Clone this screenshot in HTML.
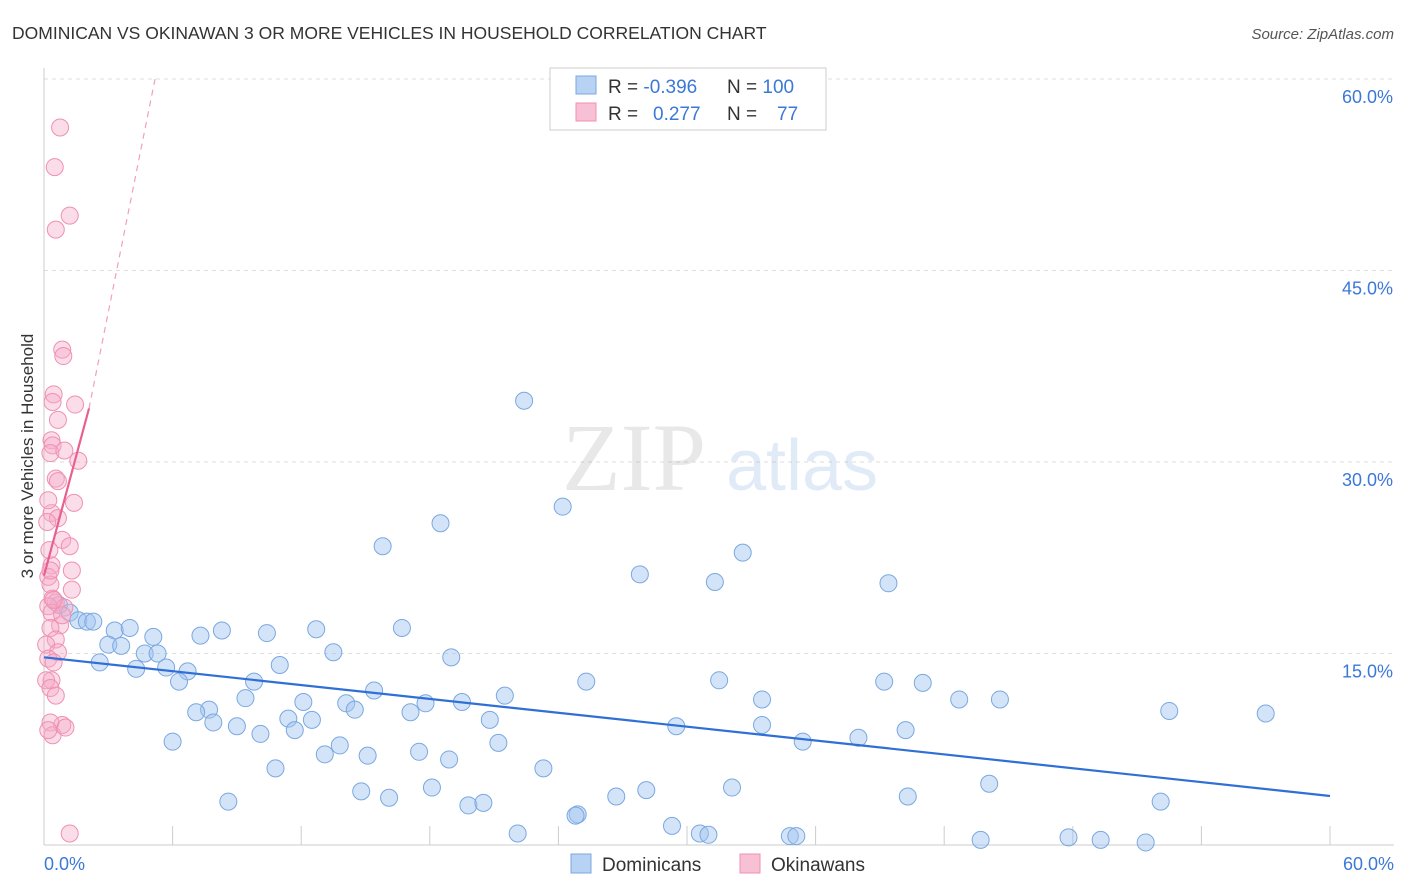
<!DOCTYPE html>
<html><head><meta charset="utf-8"><style>
body{margin:0;background:#fff;font-family:"Liberation Sans",sans-serif;}
svg{display:block}
</style></head><body>
<svg id="chart" width="1406" height="892" xmlns="http://www.w3.org/2000/svg">
<text x="12" y="39" font-size="17.5" fill="#333">DOMINICAN VS OKINAWAN 3 OR MORE VEHICLES IN HOUSEHOLD CORRELATION CHART</text>
<text x="1394" y="39" font-size="15" fill="#555" text-anchor="end" font-style="italic">Source: ZipAtlas.com</text>
<g id="grid"></g>
<g opacity="0.22">
<text x="634" y="490" font-size="96" font-family="Liberation Serif,serif" fill="#999" text-anchor="middle">ZIP</text>
<text x="802" y="490" font-size="72" fill="#7aa8e0" text-anchor="middle">atlas</text>
</g>
<g id="marks"></g>
<text transform="translate(33,456) rotate(-90)" font-size="17" fill="#333" text-anchor="middle">3 or more Vehicles in Household</text>
<g>
<rect x="550" y="68" width="276" height="62" fill="#fff" stroke="#ccc"/>
<rect x="576" y="76" width="20" height="18" fill="#b8d2f4" stroke="#7aa8e0"/>
<rect x="576" y="103" width="20" height="18" fill="#f8c0d4" stroke="#f090b0"/>
<text x="608" y="93" font-size="19" fill="#333">R = <tspan fill="#3b78d8">-0.396</tspan><tspan x="727">N = </tspan><tspan fill="#3b78d8">100</tspan></text>
<text x="608" y="120" font-size="19" fill="#333">R = <tspan x="653" fill="#3b78d8">0.277</tspan><tspan x="727">N = </tspan><tspan x="777" fill="#3b78d8">77</tspan></text>
</g>
<g>
<rect x="571" y="854" width="20" height="19" fill="#b8d2f4" stroke="#7aa8e0"/>
<text x="602" y="871" font-size="19" fill="#333">Dominicans</text>
<rect x="740" y="854" width="20" height="19" fill="#f8c0d4" stroke="#f090b0"/>
<text x="771" y="871" font-size="19" fill="#333">Okinawans</text>
</g>
</svg>
<script>
const yTicks=[15,30,45,60];
const yTickLabels=["15.0%","30.0%","45.0%","60.0%"];
const xTickLabels=["0.0%","60.0%"];
const blueX=[22.4,24.2,18.5,15.8,32.6,27.8,31.3,39.4,0.7,1.2,1.6,2.0,2.3,3.3,4.0,5.1,7.3,8.3,10.4,12.7,16.7,3.0,3.6,4.7,5.3,5.7,4.3,2.6,6.7,6.3,11.0,13.5,19.0,9.8,9.4,7.7,7.1,7.9,9.0,10.1,11.4,11.7,12.5,12.1,13.1,13.8,14.1,14.5,15.4,15.1,17.1,17.8,19.5,21.5,20.8,17.5,18.9,21.2,23.3,10.8,6.0,8.6,14.8,16.1,18.1,19.8,20.5,22.1,24.9,26.7,28.1,29.3,30.6,31.0,32.1,25.3,29.5,31.5,33.5,33.5,35.4,38.0,39.2,41.0,40.2,42.7,44.6,40.3,44.1,43.7,47.8,49.3,51.4,52.1,52.5,57.0,34.8,35.1,24.8];
const blueY=[34.8,26.5,25.2,23.4,22.9,21.2,20.6,20.5,18.8,18.2,17.6,17.5,17.5,16.8,17.0,16.3,16.4,16.8,16.6,16.9,17.0,15.7,15.6,15.0,15.0,13.9,13.8,14.3,13.6,12.8,14.1,15.1,14.7,12.8,11.5,10.6,10.4,9.6,9.3,8.7,9.9,9.0,9.8,11.2,7.1,7.8,11.1,10.6,12.1,7.0,10.4,11.1,11.2,11.7,9.8,7.3,6.7,8.0,6.0,6.0,8.1,3.4,4.2,3.7,4.5,3.1,3.3,0.9,2.4,3.8,4.3,1.5,0.9,0.8,4.5,12.8,9.3,12.9,9.4,11.4,8.1,8.4,12.8,12.7,9.0,11.4,11.4,3.8,4.8,0.4,0.6,0.4,0.2,3.4,10.5,10.3,0.7,0.7,2.3];
const pinkX=[0.75,0.5,1.2,0.55,0.85,0.9,0.45,0.4,1.45,0.35,0.4,0.3,0.95,1.6,0.55,0.65,1.4,0.35,0.65,0.15,0.85,1.2,0.25,0.35,1.3,0.2,0.3,1.3,0.4,0.55,0.2,0.95,0.35,0.75,0.3,0.55,0.1,0.65,0.2,0.45,0.35,0.1,0.3,0.55,0.85,0.3,0.4,0.2,1.2,0.65,1.0,0.45,0.85,0.3,0.2];
const pinkY=[56.2,53.1,49.3,48.2,38.8,38.3,35.3,34.7,34.5,31.7,31.3,30.7,30.9,30.1,28.7,28.5,26.8,26.0,25.6,25.3,23.9,23.4,23.1,21.9,21.5,21.0,20.4,20.0,19.3,19.0,18.7,18.6,18.2,17.2,17.0,16.1,15.7,15.1,14.6,14.3,12.9,12.9,12.3,11.7,9.4,9.6,8.6,9.0,0.9,33.3,9.2,19.2,18.0,21.5,27.0];
const blueTrend=[[0,14.7],[60,3.84]];
const pinkTrend=[[0,21.1],[2.1,34.2]];
const pinkDash=[[2.1,34.2],[5.18,60]];

const NS="http://www.w3.org/2000/svg";
const X=v=>44+v*(1286/60);
const Y=v=>845-v*(766/60);
const grid=document.getElementById('grid'), marks=document.getElementById('marks');
function mk(tag,attrs,parent){const e=document.createElementNS(NS,tag);for(const k in attrs)e.setAttribute(k,attrs[k]);parent.appendChild(e);return e;}
yTicks.forEach((t,i)=>{
 const l=mk('line',{x1:44,x2:1394,y1:Y(t),y2:Y(t),stroke:'#ddd','stroke-dasharray':'4,4'},grid);
 
 
 const tx=mk('text',{x:1393,y:Y(t)+24,'font-size':18,fill:'#3b78d8','text-anchor':'end'},grid);
 tx.textContent=yTickLabels[i];
 
 
});
const ax=mk('line',{x1:44,x2:44,y1:68,y2:845,stroke:'#ccc'},grid);


const bx=mk('line',{x1:44,x2:1394,y1:845,y2:845,stroke:'#ccc'},grid);


for(let i=0;i<=10;i++){
 const t=mk('line',{x1:X(i*6),x2:X(i*6),y1:826,y2:845,stroke:'#ccc'},grid);
 
 
}
[[0,'start',44],[60,'end',1394]].forEach((d,i)=>{
 const tx=mk('text',{x:d[2],y:870,'font-size':18,fill:'#3b78d8','text-anchor':d[1]},grid);
 tx.textContent=xTickLabels[i];
 
 
});
blueX.forEach((v,i)=>{
 const c=mk('circle',{cx:X(v),cy:Y(blueY[i]),r:8.5,fill:'rgba(160,196,240,0.45)',stroke:'#7aa8e0','stroke-width':1},marks);
 
 
});
pinkX.forEach((v,i)=>{
 const c=mk('circle',{cx:X(v),cy:Y(pinkY[i]),r:8.5,fill:'rgba(245,170,200,0.4)',stroke:'#f090b0','stroke-width':1},marks);
 
 
});
const bl=mk('line',{x1:X(blueTrend[0][0]),y1:Y(blueTrend[0][1]),x2:X(blueTrend[1][0]),y2:Y(blueTrend[1][1]),stroke:'#2f6fd6','stroke-width':2.2},marks);


const pl=mk('line',{x1:X(pinkTrend[0][0]),y1:Y(pinkTrend[0][1]),x2:X(pinkTrend[1][0]),y2:Y(pinkTrend[1][1]),stroke:'#e8608f','stroke-width':2.2},marks);


const pd=mk('line',{x1:X(pinkDash[0][0]),y1:Y(pinkDash[0][1]),x2:X(pinkDash[1][0]),y2:Y(pinkDash[1][1]),stroke:'#f0a0bc','stroke-width':1.2,'stroke-dasharray':'6,5'},marks);


</script>
</body></html>
